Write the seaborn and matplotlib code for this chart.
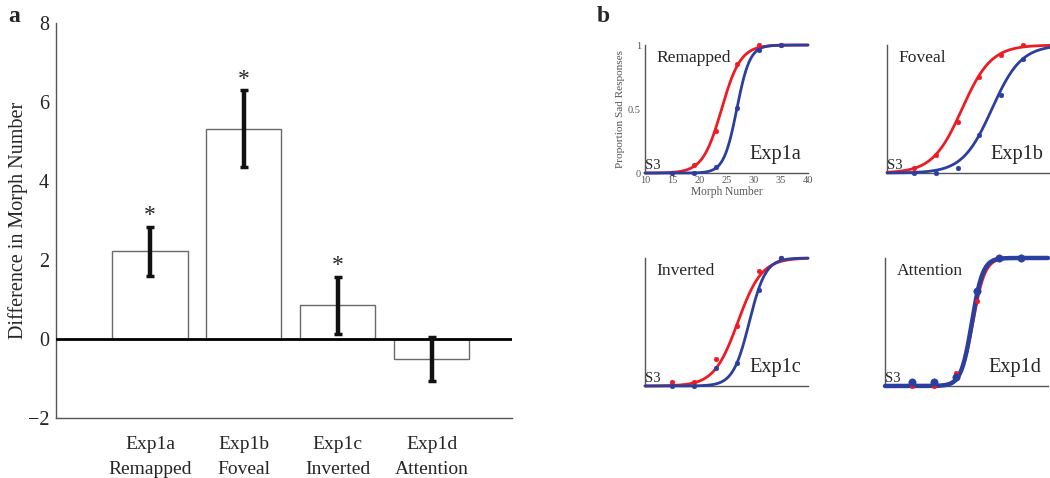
import numpy as np
import pandas as pd
import matplotlib
matplotlib.use("Agg")
import matplotlib.pyplot as plt
from matplotlib.ticker import FuncFormatter
import seaborn as sns

# ---- panel a: difference in morph number ----
experiments = ["Exp1a", "Exp1b", "Exp1c", "Exp1d"]
conditions = ["Remapped", "Foveal", "Inverted", "Attention"]
diff_values = [2.22, 5.33, 0.86, -0.50]
diff_errors = [0.62, 0.97, 0.72, 0.56]
significant = [True, True, True, False]

# ---- panel b: psychometric data (S3) ----
morph_levels = [15, 19, 23, 27, 31, 35]
red_points = {
    "Exp1a": [0.0, 0.065, 0.33, 0.85, 1.0, 1.0],
    "Exp1b": [0.04, 0.14, 0.40, 0.75, 0.92, 1.0],
    "Exp1c": [0.03, 0.03, 0.21, 0.47, 0.90, 1.0],
    "Exp1d": [0.0, 0.0, 0.10, 0.66, 0.99, 1.0],
}
blue_points = {
    "Exp1a": [0.0, 0.0, 0.05, 0.51, 0.96, 1.0],
    "Exp1b": [0.0, 0.0, 0.04, 0.30, 0.61, 0.89],
    "Exp1c": [0.0, 0.0, 0.14, 0.18, 0.75, 1.0],
    "Exp1d": [0.03, 0.03, 0.07, 0.74, 1.0, 1.0],
}
# fitted logistic parameters (midpoint, spread)
red_fit = {"Exp1a": (24.1, 1.75), "Exp1b": (23.8, 2.7), "Exp1c": (27.1, 2.2), "Exp1d": (26.2, 1.1)}
blue_fit = {"Exp1a": (26.9, 1.2), "Exp1b": (29.3, 2.7), "Exp1c": (29.2, 1.5), "Exp1d": (26.0, 1.0)}

RED = "#ec1c24"
BLUE = "#2b3f9e"
GRAY = "#555555"

sns.set_style("white")
plt.rcParams["font.family"] = ["Liberation Serif", "DejaVu Serif"]

fig = plt.figure(figsize=(10.5, 4.78), dpi=100)

# panel a
ax = fig.add_axes([0.0533, 0.1255, 0.434, 0.826])
df = pd.DataFrame({"exp": experiments, "diff": diff_values})
sns.barplot(data=df, x="exp", y="diff", ax=ax, color="white", edgecolor="#6a6a6a",
            linewidth=1.0, width=0.8, errorbar=None)
ax.errorbar(range(len(experiments)), diff_values, yerr=diff_errors, fmt="none",
            ecolor="#111111", elinewidth=3.2, capsize=3, capthick=2.5, zorder=5)
ax.axhline(0, color="black", lw=2, zorder=4)
for i, (v, e, s) in enumerate(zip(diff_values, diff_errors, significant)):
    if s:
        ax.text(i, v + e + 0.02, "*", ha="center", va="bottom", fontsize=17)
ax.set_xlim(-1.0, 3.85)
ax.set_ylim(-2, 8)
ax.set_yticks([-2, 0, 2, 4, 6, 8])
ax.set_yticklabels(["\u22122", "0", "2", "4", "6", "8"])
ax.set_xticks(range(len(experiments)))
ax.set_xticklabels([f"{e}\n{c}" for e, c in zip(experiments, conditions)], linespacing=1.6)
ax.tick_params(axis="x", direction="in", length=6, color=GRAY, labelsize=14, pad=13)
ax.tick_params(axis="y", direction="in", length=0, labelsize=14.5, pad=5)
ax.set_xlabel("")
ax.set_ylabel("Difference in Morph Number", fontsize=14.5)
ax.yaxis.set_label_coords(-0.062, 0.5)
sns.despine(ax=ax)
for sp in ["left", "bottom"]:
    ax.spines[sp].set_color(GRAY)
    ax.spines[sp].set_linewidth(1.0)

fig.text(0.008, 0.965, "a", fontsize=17, fontweight="bold", va="center")
fig.text(0.568, 0.965, "b", fontsize=17, fontweight="bold", va="center")

# panel b
positions = {
    "Exp1a": [0.6143, 0.638, 0.1552, 0.2678],
    "Exp1b": [0.8448, 0.638, 0.1552, 0.2678],
    "Exp1c": [0.6143, 0.1925, 0.1552, 0.2678],
    "Exp1d": [0.8429, 0.1925, 0.1552, 0.2678],
}
xs = np.linspace(10, 40, 300)
for exp, cond in zip(experiments, conditions):
    bx = fig.add_axes(positions[exp])
    thick = 3.2 if exp == "Exp1d" else 2.0
    msize = 28 if exp == "Exp1d" else 12
    for pts, fit, col, lw, ms in [(red_points, red_fit, RED, 2.0, 12), (blue_points, blue_fit, BLUE, thick, msize)]:
        m, s = fit[exp]
        curve = pd.DataFrame({"x": xs, "y": 1 / (1 + np.exp(-(xs - m) / s))})
        sns.lineplot(data=curve, x="x", y="y", ax=bx, color=col, lw=lw, clip_on=False, zorder=3)
        sns.scatterplot(x=morph_levels, y=pts[exp], ax=bx, color=col, s=ms,
                        edgecolor=col, clip_on=False, zorder=4)
    bx.set_xlim(10, 40)
    bx.set_ylim(0, 1)
    bx.set_xticks([10, 15, 20, 25, 30, 35, 40])
    bx.set_yticks([0, 0.5, 1])
    bx.tick_params(direction="in", length=3, color=GRAY, labelsize=7.5, labelcolor=GRAY, pad=2)
    bx.tick_params(axis="y", pad=3)
    if exp == "Exp1a":
        bx.yaxis.set_major_formatter(FuncFormatter(lambda v, p: f"{v:g}"))
        bx.set_xlabel("Morph Number", fontsize=8.3, color=GRAY, labelpad=1)
        bx.set_ylabel("Proportion Sad Responses", fontsize=8.1, color=GRAY, labelpad=2)
    else:
        bx.set_xticklabels([])
        bx.set_yticklabels([])
        bx.set_xlabel("")
        bx.set_ylabel("")
    sns.despine(ax=bx)
    for sp in ["left", "bottom"]:
        bx.spines[sp].set_color(GRAY)
        bx.spines[sp].set_linewidth(1.0)
    bx.text(0.07, 0.9, cond, transform=bx.transAxes, fontsize=12.6, va="center")
    bx.text(0.96, 0.145, exp, transform=bx.transAxes, fontsize=14.6, ha="right", va="center")
    bx.text(0.0, 0.01, "S3", transform=bx.transAxes, fontsize=10.5, ha="left", va="bottom")

fig.savefig("out.png", dpi=100)
